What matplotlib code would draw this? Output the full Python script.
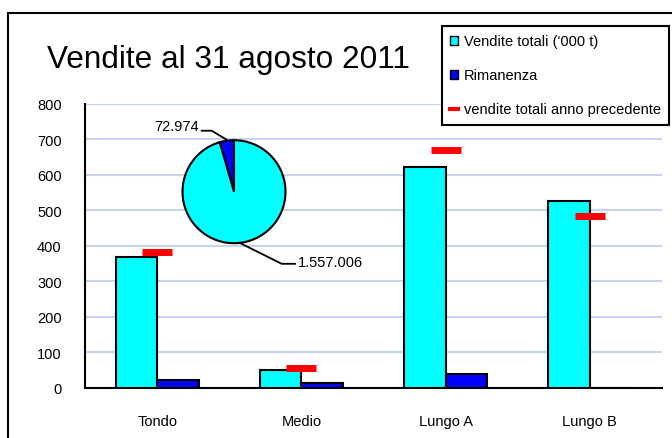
import numpy as np
import matplotlib
matplotlib.use("Agg")
import matplotlib.pyplot as plt
from matplotlib.patches import Rectangle, Patch
from matplotlib.lines import Line2D

# data
categories = ["Tondo", "Medio", "Lungo A", "Lungo B"]
vendite = [369, 51, 622, 527]
rimanenza = [22, 13, 39, 0]
anno_prec = [383, 57, 670, 485]
pie_values = [72974, 1557006]
pie_labels = ["72.974", "1.557.006"]
legend_labels = ["Vendite totali ('000 t)", "Rimanenza", "vendite totali anno precedente"]

plt.rcParams["font.family"] = ["Liberation Sans", "DejaVu Sans"]

W, H = 672, 439
def fx(px):
    return px / W
def fy(py):
    return 1 - py / H

CYAN = "#00ffff"
BLUE = "#0000ff"
RED = "#ff0000"

fig = plt.figure(figsize=(W / 100, H / 100), dpi=100)

# outer chart frame
fig.add_artist(Rectangle((fx(8.3), -0.1), 1.2, fy(14.3) + 0.1, transform=fig.transFigure,
                         fill=False, ec="black", lw=1.5))

ax = fig.add_axes([fx(85), fy(389), fx(662) - fx(85), fy(104.7) - fy(389)])
x = np.arange(len(categories))
w = 0.288
ax.bar(x - w / 2, vendite, w, color=CYAN, edgecolor="black", lw=1.5, zorder=3)
ax.bar(x + w / 2, rimanenza, w, color=BLUE, edgecolor="black", lw=1.5, zorder=3)
ax.plot(x, anno_prec, ls="none", marker="_", ms=21.6, mew=5, color=RED, zorder=4)

ax.set_xlim(-0.5, 3.5)
ax.set_ylim(0, 800)
ax.set_yticks(range(0, 801, 100))
ax.set_xticks(x)
ax.set_xticklabels(categories)
ax.yaxis.grid(True, color="#cad3ec", lw=1.5)
ax.set_axisbelow(True)
for s in ["top", "right"]:
    ax.spines[s].set_visible(False)
for s in ["left", "bottom"]:
    ax.spines[s].set_linewidth(1.5)
ax.tick_params(axis="y", length=0, labelsize=10.5, pad=16.8)
ax.tick_params(axis="x", length=0, labelsize=10.5, pad=18.7)

# title
fig.text(fx(228), fy(68.3), "Vendite al 31 agosto 2011", ha="center", va="baseline", fontsize=22.7)

# pie inset
r = 51.5
axp = fig.add_axes([fx(234 - r), fy(192.7 + r), 2 * r / W, 2 * r / H])
wedges, _ = axp.pie(pie_values, colors=[BLUE, CYAN], startangle=90, counterclock=True,
                    wedgeprops=dict(edgecolor="black", lw=1.5))
axp.set_xlim(-1, 1)
axp.set_ylim(-1, 1)
axp.set_aspect("equal")
axp.axis("off")

# leader lines + labels
label_geom = [
    dict(elbow=(-0.433, 1.184), end=(-0.627, 1.184), text=(-0.68, 1.27), ha="right"),
    dict(elbow=(0.926, -1.40), end=(1.184, -1.40), text=(1.243, -1.36), ha="left"),
]
for wdg, lab, g in zip(wedges, pie_labels, label_geom):
    m = np.deg2rad((wdg.theta1 + wdg.theta2) / 2)
    p = (np.cos(m) * 1.02, np.sin(m) * 1.02)
    axp.plot([p[0], g["elbow"][0], g["end"][0]], [p[1], g["elbow"][1], g["end"][1]],
             color="black", lw=1.3, clip_on=False)
    axp.text(g["text"][0], g["text"][1], lab, ha=g["ha"], va="center", fontsize=10.5, clip_on=False)

# legend
handles = [
    Patch(facecolor=CYAN, edgecolor="black", lw=1),
    Patch(facecolor=BLUE, edgecolor="black", lw=1),
    Line2D([], [], color=RED, lw=3),
]
leg = fig.legend(handles, legend_labels, loc="upper left", bbox_to_anchor=(fx(441.7), fy(26.7)),
                 fontsize=10.5, frameon=True, fancybox=False, edgecolor="black", framealpha=1,
                 labelspacing=1.37, borderpad=0.6, handlelength=0.55, handleheight=0.55,
                 handletextpad=0.35, borderaxespad=0)
leg.get_frame().set_linewidth(1.5)

fig.savefig("out.png", dpi=100)
